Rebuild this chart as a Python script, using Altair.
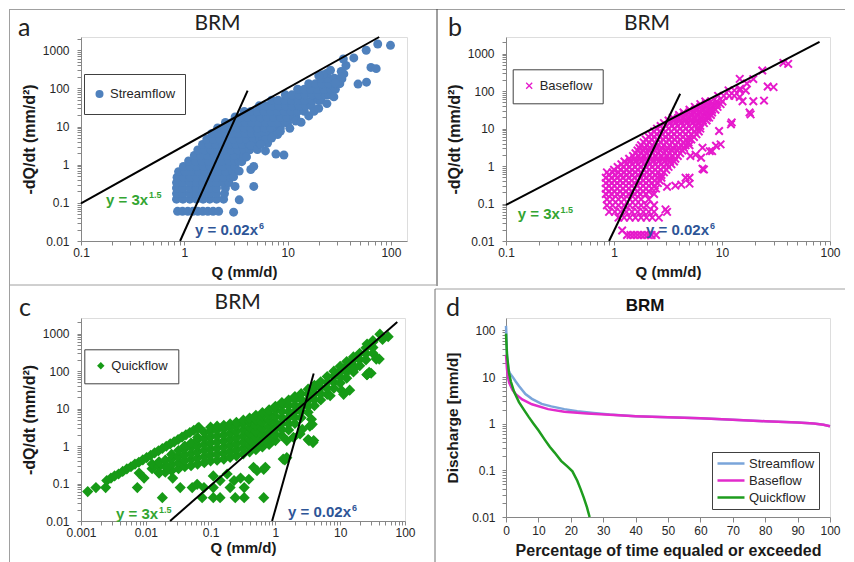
import altair as alt
import pandas as pd

FONT = "Liberation Sans"
LFONT = "Lato"
BLUE = "#4F81BD"
MAGENTA = "#E619CB"
GREEN = "#169A16"
EQ_GREEN = "#33A532"
EQ_BLUE = "#2E5597"
LINE_BLUE = "#7AA5DA"
LINE_MAG = "#E22BCB"
LINE_GRN = "#1E9C1E"
AXC = "#868686"
XPATH = "M-1,-1L1,1M1,-1L-1,1"
LBL = "abs(log(datum.value)/LN10 - round(log(datum.value)/LN10)) < 0.001 ? format(datum.value, '~g') : ''"

# ---------------- panel a : Streamflow (rows: y value, x values) ----------------
a_rows = [
    (0.06, [0.86, 0.96, 1.08, 1.21, 1.35, 1.51, 1.69, 1.9, 2.15]),
    (0.125, [0.84, 0.97, 1.13, 1.31, 1.52, 1.76, 2.05, 2.4]),
    (0.175, [0.84, 0.97, 1.13, 1.31, 1.52, 1.76, 2.05, 2.45]),
    (0.245, [0.84, 0.97, 1.13, 1.31, 1.52, 1.76, 2.05, 2.5]),
    (0.34, [0.84, 0.97, 1.13, 1.31, 1.52, 1.76, 2.05, 2.35, 2.7]),
    (0.47, [0.85, 0.98, 1.14, 1.32, 1.53, 1.78, 2.06, 2.4, 2.8]),
    (0.66, [0.88, 1.02, 1.18, 1.37, 1.59, 1.85, 2.14, 2.5, 2.95]),
    (0.9, [0.98, 1.14, 1.32, 1.53, 1.78, 2.06, 2.4, 2.75, 3.1]),
    (1.25, [1.1, 1.28, 1.48, 1.72, 2.0, 2.32, 2.7, 3.1, 3.4]),
    (1.75, [1.25, 1.45, 1.68, 1.95, 2.26, 2.62, 3.05, 3.5, 3.8]),
    (2.45, [1.35, 1.57, 1.82, 2.1, 2.45, 2.85, 3.3, 3.8, 4.3]),
    (3.4, [1.5, 1.74, 2.02, 2.34, 2.72, 3.15, 3.65, 4.25, 5.0]),
    (4.7, [1.65, 1.91, 2.22, 2.58, 3.0, 3.45, 4.0, 4.65, 5.4, 5.8]),
    (6.6, [1.85, 2.15, 2.5, 2.9, 3.35, 3.9, 4.5, 5.2, 6.0, 7.0]),
    (9.2, [2.1, 2.44, 2.83, 3.28, 3.8, 4.4, 5.1, 5.95, 6.9, 8.0, 8.5]),
    (12.8, [2.5, 2.9, 3.36, 3.9, 4.5, 5.25, 6.1, 7.05, 8.2, 9.5, 10.0]),
    (17.8, [3.1, 3.55, 4.1, 4.7, 5.45, 6.3, 7.3, 8.5, 9.85, 11.4, 12.0]),
    (25.0, [3.8, 4.4, 5.1, 5.95, 6.9, 8.0, 9.3, 10.8, 12.5, 14.5]),
    (35.0, [5.3, 6.15, 7.1, 8.25, 9.6, 11.1, 12.9, 15.0, 17.0]),
    (49.0, [7.0, 8.1, 9.4, 10.9, 12.7, 14.7, 17.1, 19.8, 21.0]),
    (68.0, [9.5, 11.0, 12.8, 14.8, 17.2, 20.0, 23.2, 25.0]),
    (95.0, [12.5, 14.5, 16.8, 19.5, 22.6, 26.2, 29.0]),
    (133.0, [16.0, 18.6, 21.5, 25.0, 29.0, 32.0]),
    (185.0, [21.0, 24.4, 28.3, 33.0]),
]
a_extra = [
    (24, 250), (26, 300), (22, 230), (33, 280), (35, 240), (33.5, 178), (36.7, 400),
    (34.6, 590), (43.7, 630), (57.6, 1000), (74.5, 1460), (99, 1350), (64, 355),
    (72, 330), (48, 130), (58, 146), (20, 215), (29, 140), (33, 200),
    (4.7, 0.27), (3.4, 0.12), (3.0, 0.057), (3.4, 0.68), (3.0, 0.48), (3.1, 0.27),
    (4.4, 0.75), (4.7, 0.9), (6.1, 2.3), (6.4, 3.7), (6.1, 4.6), (7.7, 1.9), (9.2, 1.8),
    (8.0, 6.2), (4.4, 3.2), (5.1, 2.5), (3.6, 1.2), (4.0, 1.6), (5.5, 3.4), (7.0, 5.0),
    (8.5, 7.5), (10.5, 9.0), (12.0, 14.0), (13.5, 13.0), (16.0, 19.0), (18.0, 25.0),
    (20.0, 30.0), (24.0, 40.0), (28.0, 60.0),
]
a_lines = [("s", 0.1, 0.097), ("s", 77, 2230), ("t", 0.91, 0.01), ("t", 4.1, 88)]

# ---------------- panel b : Baseflow ----------------
b_rows = [
    (0.0145, [1.32, 1.42, 1.53, 1.65, 1.78, 1.92, 2.07, 2.23, 2.45]),
    (0.042, [1.1, 1.24, 1.4, 1.58, 1.78, 2.0, 2.26, 2.6]),
    (0.06, [0.9, 1.02, 1.15, 1.3, 1.47, 1.66, 1.87, 2.1, 2.35]),
    (0.09, [0.86, 0.97, 1.1, 1.24, 1.4, 1.58, 1.78, 2.0, 2.35]),
    (0.13, [0.86, 0.97, 1.1, 1.24, 1.4, 1.58, 1.78, 2.1]),
    (0.18, [0.84, 0.95, 1.07, 1.21, 1.37, 1.55, 1.75, 1.98, 2.35]),
    (0.25, [0.84, 0.95, 1.07, 1.21, 1.37, 1.55, 1.75, 1.98, 2.24, 2.45]),
    (0.35, [0.84, 0.95, 1.07, 1.21, 1.37, 1.55, 1.75, 1.98, 2.24, 2.55]),
    (0.49, [0.84, 0.95, 1.07, 1.21, 1.37, 1.55, 1.75, 1.98, 2.24, 2.53, 2.75]),
    (0.68, [0.86, 0.97, 1.1, 1.24, 1.4, 1.58, 1.78, 2.01, 2.27, 2.57, 2.9]),
    (0.95, [1.08, 1.22, 1.38, 1.56, 1.76, 1.99, 2.25, 2.54, 2.87, 3.2]),
    (1.33, [1.25, 1.41, 1.6, 1.8, 2.04, 2.3, 2.6, 2.94, 3.3, 3.6]),
    (1.86, [1.5, 1.7, 1.92, 2.17, 2.45, 2.77, 3.13, 3.5, 3.9]),
    (2.6, [1.65, 1.86, 2.1, 2.38, 2.69, 3.04, 3.43, 3.88, 4.3]),
    (3.6, [1.78, 2.01, 2.27, 2.57, 2.9, 3.28, 3.7, 4.2, 4.6]),
    (5.1, [1.97, 2.23, 2.52, 2.85, 3.22, 3.64, 4.1, 4.65, 5.2]),
    (7.1, [2.2, 2.49, 2.81, 3.18, 3.59, 4.06, 4.59, 5.2, 5.8]),
    (10.0, [2.5, 2.83, 3.2, 3.61, 4.08, 4.61, 5.2, 5.9, 6.3]),
    (14.0, [2.9, 3.28, 3.7, 4.19, 4.73, 5.35, 6.05, 6.8]),
    (19.6, [3.5, 3.95, 4.47, 5.05, 5.7, 6.45, 7.3, 7.6]),
    (27.0, [4.4, 4.97, 5.62, 6.35, 7.2, 8.1]),
    (38.0, [5.6, 6.33, 7.15, 8.1, 9.1]),
    (53.0, [7.0, 7.9, 8.95, 10.1]),
    (75.0, [9.2, 10.4, 11.7, 13.0]),
    (105.0, [11.5, 13.0, 14.6]),
]
# in-between rows of the dense baseflow body (read between the rows above)
b_mid_rows = [
    (0.21, [0.9, 1.01, 1.14, 1.29, 1.46, 1.65, 1.86, 2.1]),
    (0.3, [0.9, 1.01, 1.14, 1.29, 1.46, 1.65, 1.86, 2.1, 2.38]),
    (0.41, [0.9, 1.01, 1.14, 1.29, 1.46, 1.65, 1.86, 2.1, 2.38, 2.65]),
    (0.58, [0.9, 1.03, 1.16, 1.31, 1.48, 1.68, 1.9, 2.14, 2.42, 2.75]),
    (0.8, [1.0, 1.15, 1.3, 1.47, 1.66, 1.88, 2.12, 2.4, 2.7, 3.05]),
    (1.12, [1.17, 1.31, 1.48, 1.67, 1.89, 2.14, 2.42, 2.74, 3.1, 3.4]),
    (1.57, [1.38, 1.55, 1.75, 1.98, 2.24, 2.53, 2.86, 3.23, 3.7]),
    (2.2, [1.58, 1.78, 2.0, 2.26, 2.55, 2.88, 3.25, 3.67, 4.1]),
    (3.05, [1.72, 1.92, 2.17, 2.45, 2.77, 3.13, 3.53, 4.0, 4.45]),
    (4.3, [1.88, 2.12, 2.39, 2.7, 3.05, 3.45, 3.9, 4.4, 4.9]),
    (6.0, [2.1, 2.36, 2.66, 3.0, 3.4, 3.84, 4.34, 4.9, 5.5]),
    (8.4, [2.35, 2.66, 3.0, 3.4, 3.84, 4.34, 4.9, 5.55, 6.1]),
    (11.8, [2.7, 3.05, 3.45, 3.9, 4.4, 4.97, 5.6, 6.3]),
    (16.5, [3.2, 3.6, 4.08, 4.6, 5.2, 5.9, 6.65, 7.2]),
    (23.0, [4.0, 4.5, 5.1, 5.75, 6.5, 7.35, 7.9]),
    (32.0, [5.0, 5.65, 6.4, 7.2, 8.1, 8.7]),
    (45.0, [6.3, 7.1, 8.0, 9.0, 9.7]),
]
b_extra = [
    (14.7, 117), (16.6, 104), (14.6, 213), (23.6, 355), (37, 570), (41, 535), (26.5, 133),
    (30, 128), (19.5, 54), (24.5, 56), (15.5, 54), (18, 27), (12.1, 13), (12.3, 14.5),
    (9.4, 8.6), (9.7, 3.8), (8.8, 3.5), (8.1, 2.5), (7.7, 2.5), (6.6, 3.1), (6.4, 1.67),
    (5.1, 1.85), (5.7, 2.0), (6.8, 0.81), (6.6, 0.85), (5.0, 0.49), (5.0, 0.34), (4.6, 0.49),
    (4.2, 0.32), (3.7, 0.3), (3.1, 0.28), (3.1, 0.06), (3.0, 0.07), (5.0, 5.4), (5.0, 3.6),
    (14.6, 70), (18.4, 24), (17, 160), (19.5, 210), (1.19, 0.019),
]
b_lines = [("s", 0.1, 0.092), ("s", 80, 2070), ("t", 0.9, 0.01), ("t", 4.1, 85)]

# ---------------- panel c : Quickflow (columns: x value, y values) ----------------
c_cols = [
    (0.0125, [0.25, 0.33]),
    (0.016, [0.2, 0.29, 0.38]),
    (0.02, [0.2, 0.29, 0.42]),
    (0.025, [0.22, 0.32, 0.46, 0.6]),
    (0.032, [0.25, 0.36, 0.53, 0.76]),
    (0.04, [0.28, 0.41, 0.59, 0.86, 1.0]),
    (0.05, [0.3, 0.44, 0.63, 0.92, 1.2]),
    (0.063, [0.33, 0.48, 0.7, 1.0, 1.46, 1.7]),
    (0.08, [0.36, 0.52, 0.76, 1.1, 1.6, 2.3]),
    (0.1, [0.4, 0.58, 0.84, 1.22, 1.77, 2.5, 3.2]),
    (0.126, [0.42, 0.61, 0.88, 1.28, 1.86, 2.7, 3.4]),
    (0.16, [0.45, 0.65, 0.95, 1.37, 2.0, 2.9, 3.6]),
    (0.2, [0.5, 0.72, 1.05, 1.52, 2.2, 3.2, 3.9]),
    (0.25, [0.55, 0.8, 1.16, 1.68, 2.44, 3.5, 4.3]),
    (0.32, [0.62, 0.9, 1.3, 1.89, 2.74, 4.0, 4.9]),
    (0.4, [0.7, 1.02, 1.47, 2.14, 3.1, 4.5, 5.6]),
    (0.5, [0.8, 1.16, 1.68, 2.44, 3.54, 5.1, 6.6]),
    (0.63, [0.95, 1.38, 2.0, 2.9, 4.2, 6.1, 7.8]),
    (0.8, [1.1, 1.6, 2.3, 3.35, 4.86, 7.0, 9.3]),
    (1.0, [1.4, 2.03, 2.94, 4.27, 6.2, 9.0, 11.5]),
    (1.26, [1.9, 2.76, 4.0, 5.8, 8.4, 12.0, 14.5]),
    (1.6, [2.7, 3.9, 5.7, 8.2, 12.0, 17.0]),
    (2.0, [4.0, 5.8, 8.4, 12.2, 17.7, 21.0]),
    (2.5, [5.7, 8.3, 12.0, 17.4, 25.0]),
    (3.2, [8.0, 11.6, 16.8, 24.4, 33.0]),
    (4.0, [12.0, 17.4, 25.2, 36.6, 42.0]),
    (5.0, [17.0, 24.7, 35.8, 52.0]),
    (6.3, [24.0, 34.8, 50.5, 72.0]),
    (8.0, [35.0, 50.8, 73.6, 100.0]),
    (10.0, [48.0, 69.6, 101.0, 135.0]),
    (12.6, [65.0, 94.0, 137.0, 180.0]),
    (16.0, [95.0, 138.0, 200.0, 240.0]),
    (20.0, [140.0, 203.0, 300.0]),
    (25.0, [200.0, 290.0, 420.0]),
    (32.0, [300.0, 430.0, 600.0]),
]
c_streak_x = [0.0029, 0.0033, 0.0038, 0.0044, 0.0051, 0.0059, 0.0068, 0.0078, 0.009, 0.0103,
              0.0119, 0.0137, 0.0157, 0.018, 0.0207, 0.0238, 0.0274, 0.0315, 0.0362, 0.0416,
              0.0479, 0.055, 0.063, 0.066]
c_streak_y = [0.14, 0.16, 0.18, 0.21, 0.245, 0.28, 0.33, 0.37, 0.43, 0.49,
              0.57, 0.66, 0.75, 0.86, 0.99, 1.14, 1.3, 1.5, 1.74, 2.0,
              2.3, 2.64, 3.0, 3.15]
c_extra = [
    (0.00127, 0.061), (0.0017, 0.078), (0.0024, 0.078), (0.0025, 0.12),
    (0.0074, 0.078), (0.0079, 0.19), (0.0094, 0.14), (0.016, 0.19), (0.021, 0.27),
    (0.026, 0.14), (0.018, 0.042), (0.034, 0.078), (0.052, 0.078), (0.062, 0.095),
    (0.079, 0.078), (0.11, 0.078), (0.074, 0.042), (0.11, 0.042), (0.14, 0.042),
    (0.24, 0.042), (0.33, 0.042), (0.66, 0.042), (0.11, 0.16), (0.14, 0.12), (0.18, 0.18),
    (0.2, 0.078), (0.23, 0.12), (0.29, 0.14), (0.33, 0.078), (0.46, 0.27), (0.52, 0.22),
    (0.39, 0.13), (0.66, 0.24), (0.7, 0.27), (1.32, 0.45), (1.4, 0.43), (1.5, 0.49),
    (1.5, 1.4), (1.9, 1.7), (2.4, 2.1), (2.6, 2.8), (3.2, 1.5), (3.3, 1.4), (3.8, 1.24),
    (3.9, 1.4), (3.4, 3.4), (3.6, 5.2), (3.7, 3.8), (7, 22), (10.6, 30), (11.3, 24),
    (14, 31), (16, 110), (26, 81), (28, 93), (25.8, 80), (30, 88), (36, 210), (36.6, 225),
    (40, 210), (26, 530), (32, 650), (41, 970), (55, 830), (45, 700),
]
c_lines = [("s", 0.0237, 0.01), ("s", 76, 2050), ("t", 0.89, 0.01), ("t", 3.9, 87)]

# ---------------- panel d : flow duration curves ----------------
d_stream_x = [0, 0.1, 0.3, 0.7, 1.2, 2, 3, 4, 6, 8, 11, 14, 18, 22, 27, 32, 40, 50, 60, 70, 80, 90, 95, 98, 100]
d_stream_y = [125, 90, 30, 15, 12, 10.2, 8.0, 6.4, 4.3, 3.4, 2.65, 2.35, 2.05, 1.85, 1.7, 1.57,
              1.45, 1.37, 1.3, 1.22, 1.13, 1.06, 1.01, 0.95, 0.88]
d_base_x = [0, 0.3, 0.6, 1, 2, 3, 5, 8, 13, 18, 25, 32, 40, 50, 60, 70, 80, 90, 95, 98, 100]
d_base_y = [30, 15, 10, 7.5, 5.3, 4.3, 3.3, 2.6, 2.05, 1.8, 1.65, 1.55, 1.45, 1.37, 1.3, 1.22,
            1.13, 1.06, 1.01, 0.95, 0.88]
d_quick_x = [0, 0.3, 0.9, 1.5, 2.5, 4, 5.5, 7, 8.5, 10, 12, 13.5, 15, 17, 19, 20.5, 22, 23, 24, 25, 25.8]
d_quick_y = [85, 30, 12.5, 8, 4.8, 2.9, 2.0, 1.4, 1.0, 0.72, 0.45, 0.32, 0.24, 0.16, 0.12, 0.095,
             0.06, 0.04, 0.026, 0.016, 0.01]


def rows_df(row_sets, extra, name, field):
    xs, ys = [], []
    for rows in row_sets:
        for y, xl in rows:
            for x in xl:
                xs.append(x)
                ys.append(y)
    for x, y in extra:
        xs.append(x)
        ys.append(y)
    return pd.DataFrame({"q": xs, "r": ys, field: name})


def cols_df(cols, sx, sy, extra, name, field):
    xs, ys = [], []
    for x, yl in cols:
        for y in yl:
            xs.append(x)
            ys.append(y)
    xs += sx
    ys += sy
    for x, y in extra:
        xs.append(x)
        ys.append(y)
    return pd.DataFrame({"q": xs, "r": ys, field: name})


def lines_df(lines):
    return pd.DataFrame({"id": [l[0] for l in lines], "q": [l[1] for l in lines], "r": [l[2] for l in lines]})


def log_vals(e_lo, e_hi, extra=()):
    v = []
    for e in range(e_lo, e_hi):
        for m in range(1, 10):
            v.append(float(f"{m}e{e}"))
    v.append(float(f"1e{e_hi}"))
    v.extend(extra)
    return v


def axis(values, title, tsize, tpad, lpad, tick=4, expr=LBL):
    kw = dict(values=values, title=title, tickSize=tick, tickColor=AXC, domainColor=AXC,
              labelPadding=lpad, labelFontSize=12, labelColor="#262626", labelFont=FONT,
              titleFont=FONT, titleFontSize=tsize, titleFontWeight="bold", titleColor="#1a1a1a",
              titlePadding=tpad, grid=False, labelFlush=False, labelOverlap=False)
    if expr:
        kw["labelExpr"] = expr
    return alt.Axis(**kw)


def text_layer(txt, x, y, size, color, font=FONT, weight="bold", align="left"):
    return alt.Chart(pd.DataFrame({"t": [txt]})).mark_text(
        align=align, baseline="alphabetic", font=font, fontSize=size, fontWeight=weight, color=color
    ).encode(text="t:N", x=alt.value(x), y=alt.value(y))


def rule_layer(color, **enc):
    return alt.Chart(pd.DataFrame({"k": [0]})).mark_rule(color=color, strokeWidth=1).encode(
        **{k: alt.value(v) for k, v in enc.items()})


def legend(x, y, pad, clip, **kw):
    return alt.Legend(orient="none", legendX=x, legendY=y, title=None, padding=pad, clipHeight=clip,
                      strokeColor="#404040", fillColor="white", labelFont=FONT, labelFontSize=13,
                      labelColor="#262626", **kw)


def scatter_panel(df, field, lines, xdom, ydom, xvals, yvals, mark, color, name, leg, texts, w, h,
                  xtpad, extra_layers=()):
    xs = alt.Scale(type="log", domain=xdom, nice=False)
    ys = alt.Scale(type="log", domain=ydom, nice=False)
    pts = alt.Chart(df).mark_point(**mark).encode(
        x=alt.X("q:Q", scale=xs, axis=axis(xvals, "Q (mm/d)", 15, xtpad, 2.5)),
        y=alt.Y("r:Q", scale=ys, axis=axis(yvals, "-dQ/dt (mm/d²)", 16, 5, 8)),
        color=alt.Color(f"{field}:N", scale=alt.Scale(domain=[name], range=[color]), legend=leg),
    )
    ln = alt.Chart(lines_df(lines)).mark_line(color="black", strokeWidth=2).encode(
        x=alt.X("q:Q", scale=xs), y=alt.Y("r:Q", scale=ys), detail="id:N")
    return alt.layer(*extra_layers, pts, ln, *texts).properties(width=w, height=h)


# borders (drawn in panel a's pixel space)
borders = [
    rule_layer("#A0A0A0", x=-72, x2=764, y=-27.5),
    rule_layer("#A0A0A0", x=-71.5, y=-28, y2=526),
    rule_layer("#404040", x=356, y=-28, y2=249),
    rule_layer("#A0A0A0", x=-72, x2=356, y=248),
    rule_layer("#A0A0A0", x=354, x2=764, y=252),
    rule_layer("#707070", x=354, y=252, y2=526),
]

pa = scatter_panel(
    rows_df([a_rows], a_extra, "Streamflow", "sa"), "sa", a_lines, [0.1, 143], [0.01, 2230],
    log_vals(-1, 2), log_vals(-2, 3, [2000]),
    dict(shape="circle", filled=True, size=80, opacity=1), BLUE, "Streamflow",
    legend(3, 37, 9, 22, symbolSize=64, symbolType="circle"),
    [text_layer("a", -63, -1, 25, "#222", LFONT, "normal"),
     text_layer("BRM", 136.5, -7, 21, "#222", LFONT, "normal", "center"),
     text_layer("y = 3x", 25, 168, 15, EQ_GREEN),
     text_layer("1.5", 68, 161, 9, EQ_GREEN),
     text_layer("y = 0.02x", 114, 198, 15, EQ_BLUE),
     text_layer("6", 178, 192, 9, EQ_BLUE)],
    326, 204, 5.5, borders,
)

pb = scatter_panel(
    rows_df([b_rows, b_mid_rows], b_extra, "Baseflow", "sb"), "sb", b_lines, [0.1, 100], [0.01, 2790],
    log_vals(-1, 2), log_vals(-2, 3, [2000]),
    dict(shape=XPATH, filled=False, size=56, strokeWidth=2, opacity=1), MAGENTA, "Baseflow",
    legend(6.7, 32.3, 10, 13, symbolSize=36, symbolType=XPATH, symbolStrokeWidth=1.3),
    [text_layer("b", -58, -1, 25, "#222", LFONT, "normal"),
     text_layer("BRM", 141, -7, 21, "#222", LFONT, "normal", "center"),
     text_layer("y = 3x", 11.7, 182, 15, EQ_GREEN),
     text_layer("1.5", 54.5, 176, 9, EQ_GREEN),
     text_layer("y = 0.02x", 140, 198, 15, EQ_BLUE),
     text_layer("6", 204, 192, 9, EQ_BLUE)],
    324, 204, 5.5,
)

pc = scatter_panel(
    cols_df(c_cols, c_streak_x, c_streak_y, c_extra, "Quickflow", "sc"), "sc", c_lines,
    [0.001, 100], [0.01, 2620],
    log_vals(-3, 2), log_vals(-2, 3, [2000]),
    dict(shape="diamond", filled=True, size=125, opacity=1), GREEN, "Quickflow",
    legend(3.3, 31.3, 10, 13, symbolSize=55, symbolType="diamond"),
    [text_layer("c", -62, -2, 25, "#222", LFONT, "normal"),
     text_layer("BRM", 156.7, -9, 21, "#222", LFONT, "normal", "center"),
     text_layer("y = 3x", 35, 201, 15, EQ_GREEN),
     text_layer("1.5", 78, 195, 9, EQ_GREEN),
     text_layer("y = 0.02x", 207, 199, 15, EQ_BLUE),
     text_layer("6", 271, 193, 9, EQ_BLUE)],
    324, 203, 2,
)

# panel d
dxs = alt.Scale(domain=[0, 100], nice=False)
dys = alt.Scale(type="log", domain=[0.01, 184], nice=False)
dcolor = alt.Color(
    "sd:N",
    scale=alt.Scale(domain=["Streamflow", "Baseflow", "Quickflow"], range=[LINE_BLUE, LINE_MAG, LINE_GRN]),
    legend=alt.Legend(orient="none", legendX=206, legendY=134, title=None, padding=4, clipHeight=15,
                      rowPadding=2, strokeColor="#404040", fillColor="white", labelFont=FONT,
                      labelFontSize=13, labelColor="#262626", symbolType="stroke", symbolSize=729,
                      symbolStrokeWidth=2.5, labelOffset=3),
)
d_axis_x = axis(list(range(0, 101, 10)), "Percentage of time equaled or exceeded", 16, 5.6, 3.5, 5, None)
d_axis_y = axis(log_vals(-2, 2), "Discharge [mm/d]", 15.5, 11, 7)


def d_line(xs, ys, name):
    df = pd.DataFrame({"p": xs, "v": ys, "sd": name})
    return alt.Chart(df).mark_line(strokeWidth=2.5).encode(
        x=alt.X("p:Q", scale=dxs, axis=d_axis_x),
        y=alt.Y("v:Q", scale=dys, axis=d_axis_y),
        color=dcolor,
    )


pd_ = alt.layer(
    d_line(d_stream_x, d_stream_y, "Streamflow"),
    d_line(d_base_x, d_base_y, "Baseflow"),
    d_line(d_quick_x, d_quick_y, "Quickflow"),
    text_layer("d", -60, -2, 25, "#222", LFONT, "normal"),
    text_layer("BRM", 139, -7, 17, "#111", FONT, "bold", "center"),
).properties(width=324, height=199)

chart = alt.concat(
    pa, pb, pc, pd_, columns=2, spacing={"row": 77, "column": 99}, bounds="flush"
).resolve_scale(color="independent").resolve_legend(color="independent").properties(
    padding=0
).configure_view(stroke="#A6A6A6", strokeWidth=1).configure(background="white")

chart.save("out.html", embed_options={"renderer": "svg", "actions": False})
